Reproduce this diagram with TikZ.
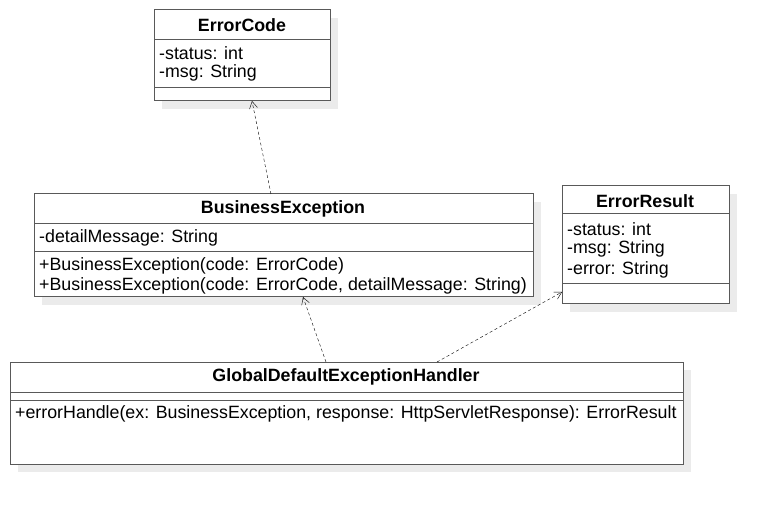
\documentclass[tikz,border=0pt]{standalone}
\usepackage{fontspec}
\setmainfont{Liberation Sans}
\usetikzlibrary{arrows.meta}

\begin{document}
\begin{tikzpicture}[x=1pt,y=-1pt,
  box/.style={draw=black!65,line width=1pt,fill=white,anchor=north west,inner sep=0pt,outer sep=0pt},
  shade/.style={fill=black!8,draw=none},
  title/.style={font=\fontsize{17.8}{20}\selectfont\bfseries,inner sep=0pt},
  member/.style={font=\fontsize{17.8}{20}\selectfont,anchor=west,inner sep=0pt},
  sep/.style={draw=black!65,line width=1pt},
  dep/.style={draw=black,dash pattern=on 3pt off 2.5pt,-{Straight Barb[length=7pt,width=8pt]}}]
\useasboundingbox (0,0) rectangle (769,505);

% Shadows
\fill[shade] (162,18) rectangle (338,109);
\fill[shade] (42,202) rectangle (541,305);
\fill[shade] (570,194) rectangle (737,312);
\fill[shade] (18,370) rectangle (691,472);

% ErrorCode
\node[box,minimum width=176pt,minimum height=91pt] (ec) at (154,10) {};
\node[title] at (242,25) {ErrorCode};
\draw[sep] (154,40) -- (330,40);
\node[member] at (159,53) {-status: int};
\node[member] at (159,73) {-msg: String};
\draw[sep] (154,88) -- (330,88);

% BusinessException
\node[box,minimum width=499pt,minimum height=103pt] (be) at (34,194) {};
\node[title] at (283,209) {BusinessException};
\draw[sep] (34,224) -- (533,224);
\node[member] at (39,238) {-detailMessage: String};
\draw[sep] (34,252) -- (533,252);
\node[member] at (39,266) {+BusinessException(code: ErrorCode)};
\node[member] at (39,286) {+BusinessException(code: ErrorCode, detailMessage: String)};

% ErrorResult
\node[box,minimum width=167pt,minimum height=118pt] (er) at (562,186) {};
\node[title] at (645,201) {ErrorResult};
\draw[sep] (562,214) -- (729,214);
\node[member] at (567,229) {-status: int};
\node[member] at (567,249) {-msg: String};
\node[member] at (567,270) {-error: String};
\draw[sep] (562,284) -- (729,284);

% GlobalDefaultExceptionHandler
\node[box,minimum width=673pt,minimum height=102pt] (gh) at (10,362) {};
\node[title] at (346,377) {GlobalDefaultExceptionHandler};
\draw[sep] (10,392) -- (683,392);
\draw[sep] (10,400) -- (683,400);
\node[member] at (15,414) {+errorHandle(ex: BusinessException, response: HttpServletResponse): ErrorResult};

% Dependencies
\coordinate (beTop) at (be.north -| 271,0);
\coordinate (ecBot) at (ec.south -| 252,0);
\coordinate (ghTopL) at (gh.north -| 326,0);
\coordinate (beBot) at (be.south -| 303,0);
\coordinate (ghTopR) at (gh.north -| 437,0);
\coordinate (erLeft) at (er.west |- 0,292);
\draw[dep] (beTop) -- (ecBot);
\draw[dep] (ghTopL) -- (beBot);
\draw[dep] (ghTopR) -- (erLeft);
\end{tikzpicture}
\end{document}
